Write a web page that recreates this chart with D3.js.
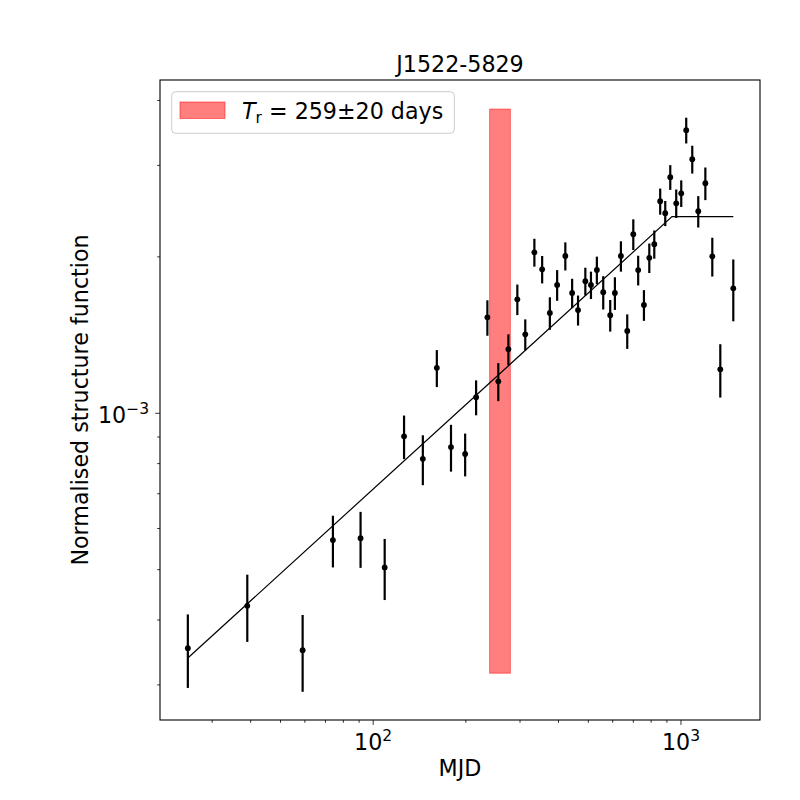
<!DOCTYPE html>
<html>
<head>
<meta charset="utf-8">
<script src="https://cdn.jsdelivr.net/npm/d3@7"></script>
<style>
  body { margin: 0; background: #fff; }
  svg { display: block; font-family: "DejaVu Sans", sans-serif; }
</style>
</head>
<body>
<svg id="chart" width="800" height="800"></svg>
<script>
// ---- data ----
const title = "J1522-5829";
const xLabel = "MJD";
const yLabel = "Normalised structure function";
// lag (days)
const lags = [25, 39, 59, 74, 91, 109, 126, 145, 161, 179, 199, 216, 235, 255, 275, 294, 312, 334, 354, 375,
              396, 421, 443, 463, 489, 510, 533, 559, 589, 610, 638, 669, 700, 726, 758, 789, 819, 856, 889, 923,
              965, 1002, 1040, 1088, 1138, 1200, 1264, 1342, 1479];
// structure function values (units of 1e-4)
const sfValues = [3.53, 4.26, 3.50, 5.70, 5.75, 5.05, 9.03, 8.17, 12.23, 8.61, 8.35, 10.74, 15.30, 11.52, 13.28, 16.57, 14.19, 20.41, 18.93, 15.60,
                  17.66, 20.08, 17.04, 15.80, 17.95, 17.66, 18.87, 17.10, 15.44, 17.04, 20.08, 14.40, 22.12, 18.86, 16.16, 19.92, 21.16, 25.59, 24.27, 28.47,
                  25.36, 26.51, 35.06, 30.83, 24.48, 27.72, 20.05, 12.15, 17.40];
// symmetric errors (units of 1e-4)
const sfErrors = [0.57, 0.63, 0.59, 0.65, 0.71, 0.68, 0.87, 0.90, 1.00, 0.89, 0.79, 0.83, 1.20, 0.97, 0.91, 1.12, 0.97, 1.26, 1.15, 1.12,
                  1.20, 1.25, 1.11, 1.05, 1.11, 1.07, 1.15, 1.26, 1.08, 1.23, 1.35, 1.10, 1.50, 1.24, 1.10, 1.30, 1.32, 1.48, 1.35, 1.56,
                  1.60, 1.56, 2.00, 1.90, 1.70, 2.00, 1.72, 1.43, 2.37];
const sfUnit = 1e-4;
// broken power-law fit
const fitX = [25, 935, 1479];
const fitY = [3.38e-4, 2.39e-3, 2.39e-3];
// characteristic timescale band
const tr = 259, trErr = 20;
const bandY = [3.16e-4, 3.85e-3];
const legendText = ["T", "r", " = 259±20 days"];
const xTicks = [100, 1000];
const xTickExp = ["2", "3"];
const yTicks = [1e-3];
const yTickExp = ["−3"];

// ---- layout ----
const svg = d3.select("#chart");
const L = 160, R = 760, T = 80, B = 720;
const x = d3.scaleLog().domain([20.3, 1806]).range([L, R]);
const y = d3.scaleLog().domain([2.568e-4, 4.38e-3]).range([B, T]);
const FS = 22.2;

// band
svg.append("rect")
  .attr("x", x(tr - trErr)).attr("width", x(tr + trErr) - x(tr - trErr))
  .attr("y", y(bandY[1])).attr("height", y(bandY[0]) - y(bandY[1]))
  .attr("fill", "red").attr("fill-opacity", 0.5)
  .attr("stroke", "red").attr("stroke-opacity", 0.5).attr("stroke-width", 1);

// fit line
svg.append("path")
  .datum(fitX.map((d, i) => [d, fitY[i]]))
  .attr("d", d3.line().x(d => x(d[0])).y(d => y(d[1])))
  .attr("fill", "none").attr("stroke", "#000").attr("stroke-width", 1.2);

// error bars + points
const pts = lags.map((d, i) => ({ x: d, y: sfValues[i] * sfUnit, e: sfErrors[i] * sfUnit }));
const g = svg.append("g");
g.selectAll("line.err").data(pts).join("line")
  .attr("x1", d => x(d.x)).attr("x2", d => x(d.x))
  .attr("y1", d => y(d.y + d.e)).attr("y2", d => y(d.y - d.e))
  .attr("stroke", "#000").attr("stroke-width", 2.2);
g.selectAll("circle").data(pts).join("circle")
  .attr("cx", d => x(d.x)).attr("cy", d => y(d.y)).attr("r", 2.9).attr("fill", "#000");

// axes frame
svg.append("rect").attr("x", L).attr("y", T).attr("width", R - L).attr("height", B - T)
  .attr("fill", "none").attr("stroke", "#000").attr("stroke-width", 1.1);

// x ticks
const xMinor = [];
for (let dec = 10; dec <= 1000; dec *= 10) for (let k = 2; k <= 9; k++) {
  const v = k * dec; if (v > x.domain()[0] && v < x.domain()[1]) xMinor.push(v);
}
svg.append("g").selectAll("line").data(xMinor).join("line")
  .attr("x1", d => x(d)).attr("x2", d => x(d)).attr("y1", B).attr("y2", B + 2.8)
  .attr("stroke", "#000").attr("stroke-width", 0.8);
svg.append("g").selectAll("line").data(xTicks).join("line")
  .attr("x1", d => x(d)).attr("x2", d => x(d)).attr("y1", B).attr("y2", B + 4.9)
  .attr("stroke", "#000").attr("stroke-width", 0.8);
const xt = svg.append("g").selectAll("text").data(xTicks).join("text")
  .attr("x", d => x(d)).attr("y", 750).attr("text-anchor", "middle")
  .attr("font-size", FS).attr("fill", "#000");
xt.append("tspan").text("10");
xt.append("tspan").attr("dy", -9).attr("font-size", 15.5).text((d, i) => xTickExp[i]);

// y ticks
const yMinor = [];
for (let dec = 1e-4; dec <= 1e-2; dec *= 10) for (let k = 2; k <= 9; k++) {
  const v = k * dec; if (v > y.domain()[0] && v < y.domain()[1]) yMinor.push(v);
}
svg.append("g").selectAll("line").data(yMinor).join("line")
  .attr("x1", L - 2.8).attr("x2", L).attr("y1", d => y(d)).attr("y2", d => y(d))
  .attr("stroke", "#000").attr("stroke-width", 0.8);
svg.append("g").selectAll("line").data(yTicks).join("line")
  .attr("x1", L - 4.9).attr("x2", L).attr("y1", d => y(d)).attr("y2", d => y(d))
  .attr("stroke", "#000").attr("stroke-width", 0.8);
const yt = svg.append("g").selectAll("text").data(yTicks).join("text")
  .attr("x", 149).attr("y", d => y(d) + 9.5).attr("text-anchor", "end")
  .attr("font-size", FS).attr("fill", "#000");
yt.append("tspan").text("10");
yt.append("tspan").attr("dy", -9).attr("font-size", 15.5).text((d, i) => yTickExp[i]);

// labels
svg.append("text").attr("x", (L + R) / 2).attr("y", 72).attr("text-anchor", "middle")
  .attr("font-size", FS).text(title);
svg.append("text").attr("x", (L + R) / 2).attr("y", 776).attr("text-anchor", "middle")
  .attr("font-size", FS).text(xLabel);
svg.append("text").attr("transform", `translate(88,${(T + B) / 2}) rotate(-90)`)
  .attr("text-anchor", "middle").attr("font-size", FS).text(yLabel);

// legend
const lg = svg.append("g");
lg.append("rect").attr("x", 171.7).attr("y", 91.7).attr("width", 282.6).attr("height", 41.6)
  .attr("rx", 4).attr("fill", "#fff").attr("fill-opacity", 0.8)
  .attr("stroke", "#cccccc").attr("stroke-width", 1);
lg.append("rect").attr("x", 180).attr("y", 102).attr("width", 45).attr("height", 16.5)
  .attr("fill", "red").attr("fill-opacity", 0.5)
  .attr("stroke", "red").attr("stroke-opacity", 0.5).attr("stroke-width", 1);
const lt = lg.append("text").attr("x", 242).attr("y", 118.5).attr("font-size", FS).attr("fill", "#000");
lt.append("tspan").attr("font-style", "italic").text(legendText[0]);
lt.append("tspan").attr("dy", 4).attr("font-size", 15.5).text(legendText[1]);
lt.append("tspan").attr("dy", -4).text(legendText[2]);
</script>
</body>
</html>
